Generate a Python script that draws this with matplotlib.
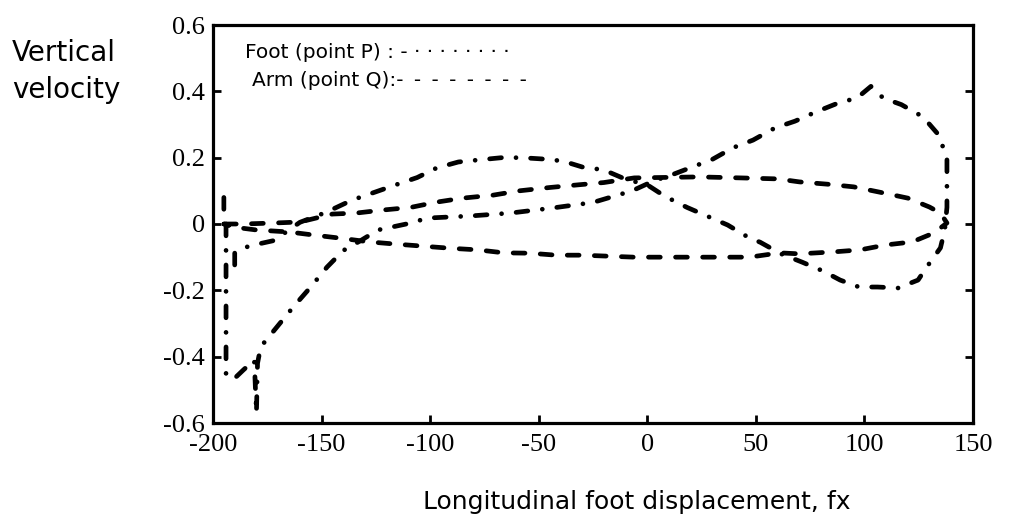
import numpy as np
import matplotlib.pyplot as plt

plt.rcParams['lines.scale_dashes'] = False

# foot trajectory (point P), one closed-ish loop traced in order
foot_x = [-194, -194, -194, -190, -186, -181, -180, -179.5, -178, -170.5, -163, -155,
          -147.5, -140, -132, -124, -111, -101, -82, -63, -44, -25, -7, 3, 12, 20,
          30, 39.5, 48.7, 58.9, 68, 77.7, 88, 96.6, 103, 108.6, 117, 127, 134, 138,
          138, 138, 137, 135, 129, 124.7, 115.5, 106, 97.5, 88.8, 81, 71.3, 61.6,
          52, 47, 37, 27.5, 18.3, 8, 0, -10, -20, -30, -39, -48, -58, -67, -78,
          -87, -97, -106, -115, -125, -136, -148, -160, -172, -181, -186, -190, -190]
foot_y = [0.0, -0.2, -0.46, -0.465, -0.44, -0.41, -0.57, -0.42, -0.37, -0.31, -0.25, -0.19,
          -0.13, -0.08, -0.05, -0.018, 0.0, 0.018, 0.024, 0.033, 0.048, 0.065, 0.1, 0.13, 0.15, 0.17,
          0.195, 0.23, 0.253, 0.29, 0.31, 0.338, 0.365, 0.38, 0.415, 0.38, 0.36, 0.323, 0.27, 0.2,
          0.154, 0.05, -0.018, -0.072, -0.127, -0.169, -0.193, -0.19, -0.19, -0.169, -0.142, -0.115, -0.09,
          -0.055, -0.042, -0.003, 0.024, 0.05, 0.084, 0.118, 0.135, 0.163, 0.172, 0.19, 0.196, 0.2, 0.2, 0.193,
          0.187, 0.169, 0.14, 0.12, 0.097, 0.072, 0.035, 0.005, -0.05, -0.063, -0.072, -0.085, -0.16]

# arm trajectory (point Q)
arm_x = [-195, -195, -186, -172, -160, -145, -134, -122, -109, -97, -85, -71, -59, -45,
         -32, -20, -6, 24, 43, 60, 70, 83, 95, 107, 120, 130, 135, 138, 132, 122, 110,
         98, 86, 70, 61, 47, 24, -6, -30, -42, -54, -66, -78, -91, -105, -117, -128,
         -141, -154, -165, -180, -191, -195]
arm_y = [0.08, 0.0, 0.0, 0.003, 0.006, 0.03, 0.033, 0.042, 0.05, 0.066, 0.078, 0.087, 0.1, 0.11,
         0.118, 0.125, 0.139, 0.142, 0.139, 0.136, 0.127, 0.12, 0.112, 0.096, 0.078, 0.051, 0.033, 0.003,
         -0.027, -0.054, -0.063, -0.078, -0.084, -0.09, -0.087, -0.1, -0.1, -0.1, -0.094, -0.094, -0.088,
         -0.087, -0.078, -0.073, -0.066, -0.06, -0.054, -0.043, -0.033, -0.024, -0.018, -0.009, 0.0]

x_ticks = [-200, -150, -100, -50, 0, 50, 100, 150]
y_ticks = [-0.6, -0.4, -0.2, 0, 0.2, 0.4, 0.6]
y_tick_labels = ['-0.6', '-0.4', '-0.2', '0', '0.2', '0.4', '0.6']

W, H = 1009, 520
fig = plt.figure(figsize=(W / 100, H / 100), dpi=100)
ax = fig.add_axes([213 / W, 1 - 423 / H, 760 / W, 398 / H])

ax.plot(foot_x, foot_y, color='k', lw=3.4, dashes=(8.5, 10.5, 0.01, 10.5),
        dash_capstyle='round', solid_capstyle='round')
ax.plot(arm_x, arm_y, color='k', lw=3.4, dashes=(8.5, 11),
        dash_capstyle='round')

ax.set_xlim(-200, 150)
ax.set_ylim(-0.6, 0.6)
ax.set_xticks(x_ticks)
ax.set_xticklabels([str(t) for t in x_ticks])
ax.set_yticks(y_ticks)
ax.set_yticklabels(y_tick_labels)

for s in ax.spines.values():
    s.set_linewidth(2.3)
ax.tick_params(direction='in', length=6, width=2, right=True, top=False,
               labelsize=19)
ax.tick_params(axis='x', pad=8)
ax.tick_params(axis='y', pad=6)
for lab in ax.get_xticklabels() + ax.get_yticklabels():
    lab.set_family('Liberation Serif')

# axis titles
fig.text(12 / W, 1 - 61 / H, 'Vertical', fontsize=20, family='DejaVu Sans', ha='left', va='baseline')
fig.text(12 / W, 1 - 98 / H, 'velocity', fontsize=20, family='DejaVu Sans', ha='left', va='baseline')
fig.text(637 / W, 1 - 509 / H, 'Longitudinal foot displacement, fx', fontsize=18,
         family='DejaVu Sans', ha='center', va='baseline')

# key written inside the frame
fig.text(245 / W, 1 - 58 / H, 'Foot (point P) : - · · · · · · · ·', fontsize=14.5,
         family='DejaVu Sans', ha='left', va='baseline')
fig.text(252 / W, 1 - 86 / H, 'Arm (point Q):- \u2009- \u2009- \u2009- \u2009- \u2009- \u2009- \u2009-',
         fontsize=14.5, family='DejaVu Sans', ha='left', va='baseline')

fig.savefig('out.png', dpi=100)
